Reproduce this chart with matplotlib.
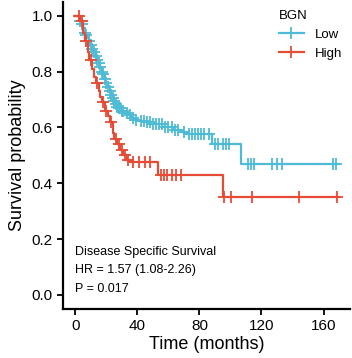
import numpy as np
import matplotlib
matplotlib.use("Agg")
import matplotlib.pyplot as plt
from matplotlib.lines import Line2D

plt.rcParams["font.family"] = ["Liberation Sans", "DejaVu Sans"]

# Kaplan-Meier steps (months, survival probability)
low_t = [0, 2, 3, 4, 5, 6, 7, 8, 9, 10, 11, 12, 13, 14, 15, 16, 17, 18, 19, 20,
         21, 22, 23, 24, 25, 26, 27, 28, 30, 32, 34, 36, 38, 41, 45, 50, 58, 63,
         68, 72, 88, 107]
low_s = [1.0, 0.99, 0.98, 0.97, 0.955, 0.94, 0.93, 0.92, 0.91, 0.895, 0.88, 0.87,
         0.855, 0.84, 0.83, 0.815, 0.80, 0.79, 0.775, 0.76, 0.745, 0.73, 0.715,
         0.705, 0.695, 0.685, 0.675, 0.668, 0.658, 0.65, 0.643, 0.635, 0.628,
         0.622, 0.618, 0.614, 0.600, 0.59, 0.582, 0.578, 0.54, 0.47]
low_cens = [3, 4, 6, 7, 9, 10, 11, 12, 13, 14, 15, 16, 17, 18, 19, 20, 21, 22, 23,
            24, 25, 26, 27, 28, 29, 30, 31, 33, 35, 37, 39, 42, 44, 46, 48, 50, 52,
            54, 56, 58, 60, 62, 64, 66, 70, 73, 75, 77, 79, 81, 83, 86, 90, 92, 95,
            97, 99, 111, 113, 115, 127, 130, 133, 166, 168]
low_end = 170

high_t = [0, 3, 5, 6, 8, 9, 11, 12, 13, 15, 16, 17, 19, 21, 22, 24, 25, 27, 29,
          31, 33, 35, 53, 95]
high_s = [1.0, 0.98, 0.94, 0.91, 0.87, 0.84, 0.81, 0.78, 0.76, 0.73, 0.71, 0.69,
          0.66, 0.64, 0.62, 0.58, 0.56, 0.54, 0.52, 0.50, 0.485, 0.475, 0.43, 0.35]
high_cens = [2, 4, 7, 10, 14, 18, 20, 23, 26, 28, 30, 32, 34, 37, 41, 45, 48, 55,
             57, 59, 62, 65, 68, 95.5, 100.6, 114, 144.5, 168.4]
high_end = 170

low_color = "#4DBBD5"
high_color = "#E64B35"


def km_plot(ax, t, s, cens, t_end, color):
    tt = list(t) + [t_end]
    ss = list(s) + [s[-1]]
    ax.step(tt, ss, where="post", color=color, lw=1.6)
    idx = np.searchsorted(t, cens, side="right") - 1
    ax.plot(cens, np.array(s)[idx], ls="none", marker="+", ms=8, mew=1.3,
            color=color)


fig = plt.figure(figsize=(3.52, 3.58), dpi=100)
ax = fig.add_axes([0.179, 0.137, 0.815, 0.858])

km_plot(ax, low_t, low_s, low_cens, low_end, low_color)
km_plot(ax, high_t, high_s, high_cens, high_end, high_color)

ax.set_xlim(-8, 177)
ax.set_ylim(-0.05, 1.05)
ax.set_xticks([0, 40, 80, 120, 160])
ax.set_yticks([0.0, 0.2, 0.4, 0.6, 0.8, 1.0])
ax.set_yticklabels(["0.0", "0.2", "0.4", "0.6", "0.8", "1.0"])
for side in ["top", "right"]:
    ax.spines[side].set_visible(False)
for side in ["left", "bottom"]:
    ax.spines[side].set_linewidth(1.6)
ax.tick_params(width=1.3, length=4.5, pad=3, labelsize=11, direction="out")
ax.set_xlabel("Time (months)", fontsize=13, labelpad=2)
ax.set_ylabel("Survival probability", fontsize=13, labelpad=4)

ax.text(0, 0.154, "Disease Specific Survival", fontsize=9, va="center")
ax.text(0, 0.089, "HR = 1.57 (1.08-2.26)", fontsize=9, va="center")
ax.text(0, 0.021, "P = 0.017", fontsize=9, va="center")

handles = [
    Line2D([], [], color=low_color, lw=1.6, marker="+", ms=8, mew=1.3),
    Line2D([], [], color=high_color, lw=1.6, marker="+", ms=8, mew=1.3),
]
leg = ax.legend(handles, ["Low", "High"], title="BGN", loc="upper left",
                bbox_to_anchor=(0.711, 1.012), frameon=False, fontsize=9.5,
                title_fontsize=9.5, handlelength=1.9, labelspacing=0.5,
                handletextpad=0.8)
leg._legend_box.align = "left"

fig.savefig("out.png", dpi=100)
